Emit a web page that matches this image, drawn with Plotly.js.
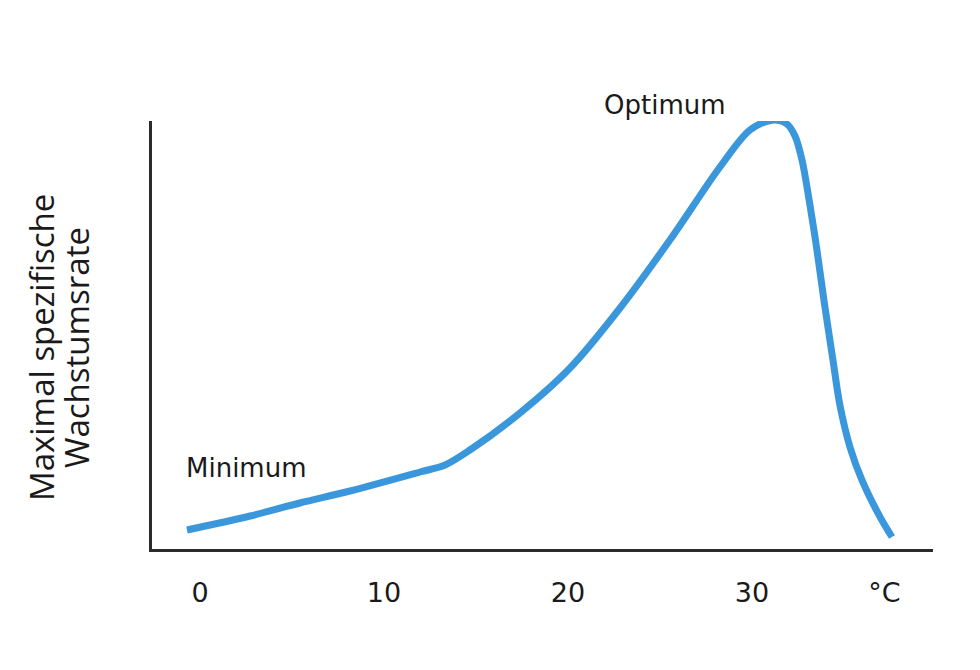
<!DOCTYPE html>
<html>
<head>
<meta charset="utf-8">
<script src="https://cdn.plot.ly/plotly-3.0.1.min.js"></script>
<style>html,body{margin:0;padding:0;background:#fff;}#chart{width:980px;height:670px;}</style>
</head>
<body>
<div id="chart"></div>
<script>
// Temperature (°C) and relative maximal specific growth rate (arbitrary units)
const temperature = [-0.71, 2.72, 5.43, 8.15, 11.96, 13.32, 14.67, 17.39, 20.11, 22.83, 25.54, 28.26, 29.89, 31.09, 31.9, 32.34, 32.72, 33.15, 33.53, 33.91, 34.4, 34.78, 35.33, 35.98, 36.96, 37.61];
const growthRate = [4.44, 7.71, 10.75, 13.55, 17.99, 19.63, 23.13, 31.78, 42.29, 56.31, 72.2, 89.25, 97.9, 100.2, 99.3, 96.5, 90.9, 80.4, 69.9, 58.2, 44.2, 33.6, 23.8, 16.1, 7.5, 2.8];
const tickVals = [0, 10, 20, 30, 37.2];
const tickText = ['0', '10', '20', '30', '°C'];
const yTitleLines = ['Maximal spezifische', 'Wachstumsrate'];
const labels = ['Optimum', 'Minimum'];
const labelX = [25.27, 2.5];
const labelY = [1.0374, 0.1893];

const trace = {
  x: temperature, y: growthRate, type: 'scatter', mode: 'lines',
  line: {color: '#3a97dc', width: 7, shape: 'spline', smoothing: 0.9},
  cliponaxis: false, hoverinfo: 'skip'
};

const textColor = '#1a1a1a';
const annotations = labels.map((t, i) => ({
  text: t, x: labelX[i], y: labelY[i], xref: 'x', yref: 'paper',
  showarrow: false, xanchor: 'center', yanchor: 'middle',
  font: {family: 'DejaVu Sans', size: 26, color: textColor}
}));
const titleX = [-0.1421, -0.0973];
yTitleLines.forEach((t, i) => annotations.push({
  text: t, x: titleX[i], y: 0.4696, xref: 'paper', yref: 'paper',
  showarrow: false, xanchor: 'center', yanchor: 'middle', textangle: -90,
  font: {family: 'Open Sans', size: 33, color: textColor}
}));

const layout = {
  width: 980, height: 670,
  margin: {l: 152, r: 47, t: 121, b: 121},
  paper_bgcolor: '#ffffff', plot_bgcolor: '#ffffff',
  showlegend: false,
  xaxis: {
    range: [-2.61, 39.84], showgrid: false, zeroline: false,
    showline: true, linecolor: '#2b2b2b', linewidth: 3,
    ticks: '', tickmode: 'array', tickvals: tickVals, ticktext: tickText,
    ticklabelstandoff: 18,
    tickfont: {family: 'DejaVu Sans', size: 27, color: textColor}
  },
  yaxis: {
    range: [0, 100], showgrid: false, zeroline: false,
    showline: true, linecolor: '#2b2b2b', linewidth: 3,
    ticks: '', showticklabels: false
  },
  annotations: annotations
};

Plotly.newPlot('chart', [trace], layout, {displayModeBar: false, staticPlot: true});
</script>
</body>
</html>
